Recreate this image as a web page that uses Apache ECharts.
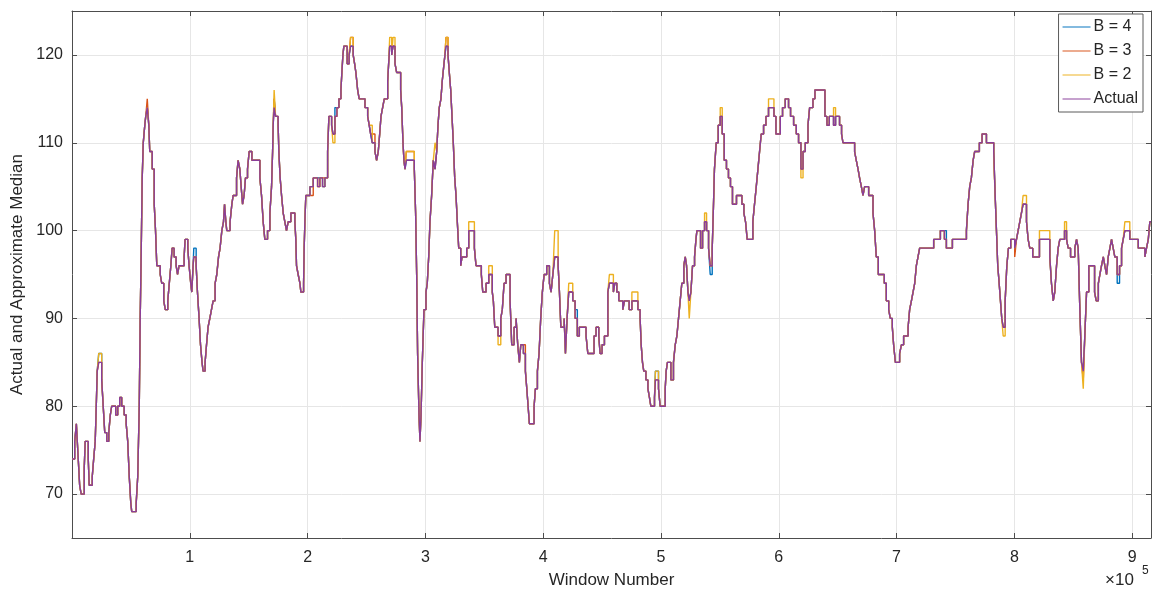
<!DOCTYPE html>
<html>
<head>
    <meta http-equiv="Content-Type" content="text/html; charset=utf-8" />
    <title>Actual and Approximate Median</title>
    <script src="https://cdn.jsdelivr.net/npm/echarts@6/dist/echarts.min.js"></script>
</head>
<body style="margin:0;padding:0;background:#ffffff;">
    <div id="main" style="width:1156px;height:597px;"></div>
    <script type="text/javascript">
        /*************************************************************
        * 数据
        *************************************************************/
        var windows = [
            0,2300,3700,5300,6500,7800,10400,11200,13800,14600,
            17200,18400,19700,20600,21400,22700,25200,26500,27800,29500,
            31200,32500,33700,37100,38800,40500,42200,44300,46000,47300,
            48600,49900,50700,54500,55800,57100,57900,58800,59600,60500,
            61800,62600,63900,65200,66000,68100,69800,70900,72000,74900,
            76200,77900,79200,81300,82600,83900,85000,86700,88400,89600,
            90900,95200,96000,98300,99400,100800,101700,102800,103400,105400,
            106500,107900,109100,110400,111300,113000,114200,115500,117000,118400,
            119800,121500,122900,124400,125700,127200,128600,129500,130600,131400,
            134200,135700,136800,139700,141000,142500,143600,144800,146100,147300,
            149000,150400,152700,159500,160900,162300,163700,166000,168000,169400,
            170300,170800,171600,172800,175000,175600,176700,177900,179300,180700,
            182100,183500,185800,189200,190000,190600,192000,193500,194300,196600,
            197100,197700,198500,202000,204800,208500,210400,212700,214700,217000,
            218100,220400,221500,223200,224900,226600,228300,229100,230000,230800,
            233600,235300,236500,238700,239900,241000,242500,243800,248700,251000,
            252300,253500,254900,257200,258600,260000,261200,262300,263700,265100,
            268000,268800,269700,271400,272500,274200,275600,279000,279900,281000,
            281800,282700,283800,290600,291700,292600,293400,294600,295400,296300,
            297400,298800,300500,301600,302800,303900,305300,306700,308200,309600,
            310700,311800,313200,314300,315800,316600,317500,319200,320300,321500,
            322600,323700,324900,326000,327100,328300,330000,331100,335100,336800,
            341600,343000,347500,348700,351500,353800,356800,357700,358900,361700,
            364000,365300,366800,368500,371900,373300,375300,377000,378400,379800,
            381000,383200,384900,386100,387200,388300,392300,393400,395100,396500,
            397900,399300,400800,403000,405300,406700,408200,409800,412700,413800,
            415000,417800,418900,420300,421700,425100,427100,429000,430700,436400,
            437900,443200,444900,447200,448300,450000,452000,454900,456200,459600,
            460800,462500,464200,467600,469000,473000,475300,480400,482300,483200,
            484300,485400,487200,488900,490200,491400,494500,495300,497900,499300,
            503600,504400,505500,508400,510600,512100,513500,514900,516300,517700,
            519400,520600,521700,522900,524000,525400,526800,528500,529700,530500,
            533600,535300,537000,538700,540400,541800,543500,544400,545400,546900,
            548600,550300,552000,553700,555600,557300,559000,560700,564100,568700,
            570400,571800,573200,578000,579400,580900,582300,583700,585100,587100,
            589100,591300,595900,597600,601300,603200,605500,608300,610000,612600,
            614900,616800,618800,620600,622500,624800,626200,629000,630700,639200,
            640900,642900,646500,648200,651600,653300,654500,664400,665800,667300,
            668600,670100,671500,672900,676300,680000,681400,682800,684500,689600,
            691300,693300,694700,696400,697500,699000,702600,704100,706000,709800,
            711100,712600,714000,715400,716800,718200,719600,731500,737200,740600,
            742300,747400,759300,760700,762100,763500,765000,766300,770300,772600,
            776300,782500,783700,784800,785900,787100,788200,789300,790500,792200,
            793600,795000,796900,800300,801800,803200,804600,806000,807400,810300,
            811700,813100,815600,821300,830100,831500,833000,834300,835800,837200,
            838600,842600,844300,845700,847700,851300,852800,854200,855600,857000,
            858500,859800,861300,863200,868100,869500,871300,872600,874000,875500,
            876800,878300,879700,881100,882500,883900,885300,887300,889300,891000,
            892400,893800,898000,905200,910800,912200,913700,915000,916000
        ];

        var actual = [
            74,76,78,74,71,70,73,76,74,71,
            72,74,76,80,84,85,83,80,77,76,
            77,79,80,79,80,81,80,79,78,76,
            72,69,68,69,72,80,90,98,106,110,
            112,113,114,112,109,107,103,100,96,95,
            94,92,91,92,94,96,98,97,96,95,
            96,97,99,98,96,94,93,96,97,96,
            93,90,87,85,84,85,87,89,90,91,
            92,94,95,97,98,100,101,103,101,100,
            101,103,104,106,108,107,105,103,104,106,
            107,109,108,106,104,101,99,100,102,105,
            109,112,114,113,112,109,106,104,102,101,
            100,101,102,101,99,96,95,94,93,94,
            98,101,104,105,106,105,106,105,106,109,
            113,112,111,113,114,115,116,118,120,121,
            119,120,121,120,119,118,116,115,114,113,
            112,111,110,109,108,109,111,113,114,115,
            117,119,121,120,121,119,118,116,114,110,
            108,107,108,107,102,95,86,79,76,79,
            85,91,93,94,97,101,104,108,107,109,
            112,114,115,117,119,120,121,120,118,116,
            113,110,106,104,101,98,96,97,98,100,
            98,96,95,93,94,95,93,92,89,88,
            90,91,94,95,92,87,89,90,87,85,
            87,86,84,82,80,78,80,82,84,86,
            90,93,95,96,94,93,95,97,96,93,
            89,90,86,90,93,92,90,88,89,88,
            86,88,89,88,86,87,88,93,94,93,
            94,93,92,91,92,91,92,91,90,87,
            85,84,83,82,81,80,81,83,82,80,
            82,84,85,83,85,87,88,90,92,94,
            96,97,96,93,92,93,96,97,99,100,
            98,100,101,100,98,96,98,102,107,110,
            112,113,111,108,107,106,105,103,104,103,
            102,101,99,101,103,105,107,109,111,112,
            113,114,113,111,113,114,115,114,113,112,
            111,110,107,109,110,112,114,115,116,113,
            112,113,112,113,112,111,110,109,108,107,
            106,105,104,105,104,102,100,97,95,94,
            92,91,90,89,87,85,86,87,88,89,
            91,92,93,94,96,97,98,99,100,99,
            98,99,100,103,105,106,108,109,110,111,
            110,109,104,100,96,94,92,90,89,92,
            96,98,99,98,99,100,101,102,103,101,
            99,98,97,99,97,94,92,93,96,98,
            99,100,99,98,97,98,99,98,91,85,
            84,88,93,96,93,92,94,95,96,97,
            96,95,97,98,99,98,97,95,96,98,
            99,100,99,98,97,98,99,101,101
        ];

        var b4 = [
            74,76,78,74,71,70,73,76,74,71,
            72,74,76,80,84,86,83,80,77,76,
            77,79,80,79,80,81,80,79,78,76,
            72,69,68,69,72,80,90,98,106,110,
            112,113,114,112,109,107,103,100,96,95,
            94,92,91,92,94,96,98,97,96,95,
            96,97,99,98,96,94,93,96,98,96,
            93,90,87,85,84,85,87,89,90,91,
            92,94,95,97,98,100,101,103,101,100,
            101,103,104,106,108,107,105,103,104,106,
            107,109,108,106,104,101,99,100,102,105,
            109,112,115,113,112,109,106,104,102,101,
            100,101,102,101,99,96,95,94,93,94,
            98,101,104,105,106,106,106,105,106,109,
            113,112,111,114,114,115,116,118,120,121,
            119,120,121,120,119,118,116,115,114,113,
            112,111,110,109,108,109,111,113,114,115,
            117,119,121,120,121,119,118,116,114,110,
            108,107,108,107,102,95,86,79,76,79,
            85,91,93,94,97,101,104,108,107,109,
            112,114,115,117,119,120,121,120,118,116,
            113,110,106,104,101,98,96,97,98,100,
            98,96,95,93,94,95,93,92,89,88,
            90,91,94,95,92,87,89,90,87,85,
            87,86,84,82,80,78,80,82,84,86,
            90,93,95,96,94,93,95,97,96,93,
            89,90,86,90,93,92,91,88,89,88,
            86,88,89,88,86,87,88,93,94,93,
            94,93,92,91,92,91,92,91,90,87,
            85,84,83,82,81,80,81,84,82,80,
            82,84,85,83,85,87,88,90,92,94,
            96,97,96,93,92,93,96,97,99,100,
            98,100,101,100,98,95,98,102,107,110,
            112,113,111,108,107,106,105,103,104,103,
            102,101,99,101,103,105,107,109,111,112,
            113,114,113,111,113,114,115,114,113,112,
            111,110,107,109,110,112,114,115,116,113,
            112,113,112,113,112,111,110,109,108,107,
            106,105,104,105,104,102,100,97,95,94,
            92,91,90,89,87,85,86,87,88,89,
            91,92,93,94,96,97,98,99,100,100,
            98,99,100,103,105,106,108,109,110,111,
            110,109,104,100,96,94,92,90,89,92,
            96,98,99,98,99,100,101,102,103,101,
            99,98,97,99,97,94,92,93,96,98,
            99,100,99,98,97,98,99,98,91,85,
            84,88,93,96,93,92,94,95,96,97,
            96,95,97,98,99,98,97,94,96,98,
            99,100,99,98,97,98,99,101,101
        ];

        var b3 = [
            74,76,78,74,71,70,73,76,74,71,
            72,74,76,80,84,85,83,80,77,76,
            77,79,80,79,80,81,80,79,78,76,
            72,69,68,69,72,80,90,98,106,110,
            112,113,115,112,109,107,103,100,96,95,
            94,92,91,92,94,96,98,97,96,95,
            96,97,99,98,96,94,93,96,97,96,
            93,90,87,85,84,85,87,89,90,91,
            92,94,95,97,98,100,101,103,101,100,
            101,103,104,106,108,107,105,103,104,106,
            107,109,108,106,104,101,99,100,102,105,
            109,112,115,113,112,109,106,104,102,101,
            100,101,102,101,99,96,95,94,93,94,
            98,101,104,104,106,105,106,106,106,109,
            113,112,111,113,114,115,116,118,120,121,
            119,120,122,120,119,118,116,115,114,113,
            112,111,111,109,108,109,111,113,114,115,
            117,119,121,120,121,119,118,116,114,110,
            108,107,109,107,102,95,86,79,76,79,
            85,91,93,94,97,101,104,108,107,109,
            112,114,115,117,119,120,122,120,118,116,
            113,110,106,104,101,98,96,97,98,100,
            98,96,95,93,94,95,93,92,89,88,
            90,91,94,95,92,87,89,90,87,85,
            87,87,84,82,80,78,80,82,84,86,
            90,93,95,96,94,93,95,97,96,93,
            89,90,86,90,93,92,90,88,89,88,
            86,88,89,88,86,87,88,93,94,93,
            94,93,92,91,92,91,92,91,90,87,
            85,84,83,82,81,80,81,83,82,80,
            82,84,85,83,85,87,88,90,92,94,
            96,97,96,93,92,93,96,97,99,100,
            98,100,101,100,98,96,98,102,107,110,
            112,113,111,108,107,106,105,103,104,103,
            102,101,99,101,103,105,107,109,111,112,
            113,114,113,111,113,114,115,114,113,112,
            111,110,107,109,110,112,114,115,116,113,
            112,113,112,113,112,111,110,109,108,107,
            106,105,104,105,104,102,100,97,95,94,
            92,91,90,89,87,85,86,87,88,89,
            91,92,93,94,96,97,98,99,100,99,
            98,99,100,103,105,106,108,109,110,111,
            110,109,104,100,96,94,92,90,89,92,
            96,98,99,97,99,100,101,102,103,101,
            99,98,97,99,97,94,92,93,96,98,
            99,100,99,98,97,98,99,98,91,85,
            83,88,93,96,93,92,94,95,96,97,
            96,95,97,98,99,98,97,95,96,98,
            99,100,99,98,97,98,99,101,101
        ];

        var b2 = [
            74,76,78,74,71,70,73,76,74,71,
            72,74,76,80,84,86,83,80,77,76,
            77,79,80,79,80,81,80,79,78,76,
            72,69,68,69,72,80,90,98,106,110,
            112,113,114,112,109,107,103,100,96,95,
            94,92,91,92,94,96,98,97,96,95,
            96,97,99,98,96,94,93,96,97,96,
            93,90,87,85,84,85,87,89,90,91,
            92,94,95,97,98,100,101,103,101,100,
            101,103,104,106,108,107,105,103,104,106,
            107,109,108,106,104,101,99,100,102,105,
            109,112,116,113,112,109,106,104,102,101,
            100,101,102,101,99,96,95,94,93,94,
            98,101,104,105,106,105,106,105,106,109,
            113,112,110,113,114,115,116,118,120,121,
            119,120,122,120,119,118,116,115,114,113,
            112,112,110,109,108,109,111,113,114,115,
            117,119,122,120,122,119,118,116,114,110,
            108,107,109,107,102,95,86,79,76,79,
            85,91,93,94,97,101,104,108,110,109,
            112,114,115,117,119,120,122,120,118,116,
            113,110,106,104,101,98,96,97,98,101,
            98,96,95,93,94,96,93,92,89,87,
            90,91,94,95,92,87,89,90,87,85,
            87,86,84,82,80,78,80,82,84,86,
            90,93,95,96,94,93,95,100,96,93,
            89,90,86,90,94,92,90,88,89,88,
            86,88,89,88,86,87,88,93,95,93,
            94,93,92,91,92,91,93,91,90,87,
            85,84,83,82,81,80,81,84,82,80,
            82,84,85,83,85,87,88,90,92,94,
            96,97,96,93,90,93,96,97,99,100,
            98,100,102,100,98,96,98,102,107,110,
            112,114,111,108,107,106,105,103,104,103,
            102,101,99,101,103,105,107,109,111,112,
            113,115,113,111,113,114,115,114,113,112,
            111,110,106,109,110,112,114,115,116,113,
            112,113,114,113,112,111,110,109,108,107,
            106,105,104,105,104,102,100,97,95,94,
            92,91,90,89,87,85,86,87,88,89,
            91,92,93,94,96,97,98,99,100,99,
            98,99,100,103,105,106,108,109,110,111,
            110,108,104,100,96,94,92,90,88,92,
            96,98,99,98,99,100,101,102,104,101,
            99,98,97,100,97,94,92,93,96,98,
            99,101,99,98,97,98,99,98,91,85,
            82,88,93,96,93,92,94,95,96,97,
            96,95,97,98,99,98,97,95,96,98,
            99,101,99,98,97,98,99,101,101
        ];

        var seriesNames = ['B = 4', 'B = 3', 'B = 2', 'Actual'];
        var seriesColors = ['#0072BD', '#D95319', '#EDB120', '#8A3D9A'];
        var seriesValues = [b4, b3, b2, actual];

        var xMax = 916000;
        var yMin = 65;
        var yMax = 125;

        /*************************************************************
        * 配置
        *************************************************************/
        var axisColor = '#4d4d4d';
        var textColor = '#262626';
        var fontName = 'Liberation Sans, Arial, sans-serif';

        function pairs(values) {
            var out = [];
            for (var i = 0; i < windows.length; i++) {
                out.push([windows[i], values[i]]);
            }
            return out;
        }

        var series = [];
        for (var k = 0; k < seriesNames.length; k++) {
            series.push({
                name: seriesNames[k],
                type: 'line',
                step: 'end',
                symbol: 'none',
                xAxisIndex: 0,
                yAxisIndex: 0,
                color: seriesColors[k],
                lineStyle: { width: 1.4, color: seriesColors[k] },
                data: pairs(seriesValues[k])
            });
        }

        // 轴线不贴零点，刻度线朝内
        var boxLine = { show: true, onZero: false, lineStyle: { color: axisColor } };
        var tickIn = { show: true, inside: true, length: 5, lineStyle: { color: axisColor } };

        var chart = echarts.init(document.getElementById('main'));
        var option = {
            animation: false,
            backgroundColor: '#ffffff',
            textStyle: { fontFamily: fontName },
            grid: { left: 72, right: 5, top: 11, bottom: 59 },
            legend: {
                data: seriesNames,
                orient: 'vertical',
                right: 13,
                top: 14,
                icon: 'rect',
                itemWidth: 28,
                itemHeight: 1.5,
                itemGap: 8,
                padding: [5, 5, 5, 4],
                backgroundColor: '#ffffff',
                borderColor: '#5a5a5a',
                borderWidth: 1,
                itemStyle: { opacity: 0.65 },
                textStyle: { fontSize: 16, color: textColor, padding: [0, 0, 0, -2] }
            },
            xAxis: [
                {
                    type: 'value',
                    position: 'bottom',
                    min: 0,
                    max: xMax,
                    interval: 100000,
                    name: 'Window Number',
                    nameLocation: 'middle',
                    nameGap: 34,
                    nameTextStyle: { fontSize: 17, color: textColor },
                    axisLine: boxLine,
                    axisTick: tickIn,
                    axisLabel: {
                        fontSize: 16,
                        color: textColor,
                        margin: 12,
                        formatter: function (v) {
                            if (v === 0 || v % 100000 !== 0) return '';
                            return String(v / 100000);
                        }
                    },
                    splitLine: { show: true, lineStyle: { color: '#e6e6e6' } }
                },
                {
                    type: 'value',
                    position: 'top',
                    min: 0,
                    max: xMax,
                    interval: 100000,
                    axisLine: boxLine,
                    axisTick: tickIn,
                    axisLabel: { show: false },
                    splitLine: { show: false }
                }
            ],
            yAxis: [
                {
                    type: 'value',
                    position: 'left',
                    min: yMin,
                    max: yMax,
                    splitNumber: 6,
                    name: 'Actual and Approximate Median',
                    nameLocation: 'middle',
                    nameGap: 41,
                    nameTextStyle: { fontSize: 17, color: textColor },
                    axisLine: boxLine,
                    axisTick: tickIn,
                    axisLabel: {
                        fontSize: 16,
                        color: textColor,
                        margin: 9,
                        formatter: function (v) {
                            return (v % 10 === 0 && v > yMin && v < yMax) ? String(v) : '';
                        }
                    },
                    splitLine: { show: true, lineStyle: { color: '#e6e6e6' } }
                },
                {
                    type: 'value',
                    position: 'right',
                    min: yMin,
                    max: yMax,
                    splitNumber: 6,
                    axisLine: boxLine,
                    axisTick: tickIn,
                    axisLabel: { show: false },
                    splitLine: { show: false }
                }
            ],
            graphic: [
                { type: 'text', left: 1105, top: 572, style: { text: '×10', fontSize: 17, fill: textColor, fontFamily: fontName } },
                { type: 'text', left: 1142, top: 565, style: { text: '5', fontSize: 12, fill: textColor, fontFamily: fontName } }
            ],
            series: series
        };
        chart.setOption(option);
    </script>
</body>
</html>
